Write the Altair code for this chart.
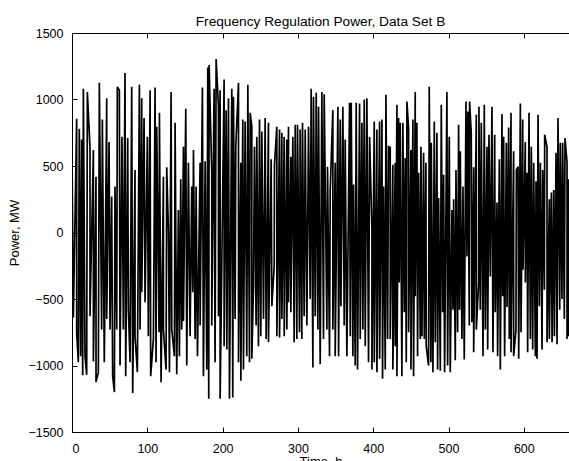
import altair as alt
import pandas as pd

# Upper excursions (hours, MW)
peak_t = [0, 6.2, 9.7, 12.8, 15.1, 20.4, 23.9, 28.4, 31.9, 36.3, 40.3, 46.1, 49.2, 52.7, 57.1, 60.2, 62.9, 66.4, 70.4, 74.0,
          79.3, 83.7, 89.5, 92.6, 95.7, 100.1, 103.7, 110.3, 112.5, 116.1, 121.4, 125.8, 128.0, 131.6, 136.9, 141.3, 144.4, 148.0, 151.1, 154.6,
          159.0, 161.3, 164.8, 170.1, 173.2, 176.8, 180.3, 182.1, 185.6, 188.7, 191.4, 194.5,
          196.7, 202.0, 204.7, 207.8, 212.2, 214.4, 217.5, 221.1, 224.2, 226.8, 229.9, 233.5, 236.6, 238.8, 242.3, 245.4, 249.0, 252.1,
          256.5, 260.9, 264.5, 268.9, 272.0, 275.6, 278.7, 281.8, 285.3, 287.5, 290.6, 293.3, 296.4, 299.5, 303.0, 306.1, 309.7, 314.1,
          317.6, 320.7, 324.3, 327.4, 331.8, 334.9, 339.3, 342.9, 346.4, 349.5, 353.1, 356.2, 359.7, 362.8, 368.6, 370.8, 373.9, 377.4,
          381.9, 385.0, 388.1, 391.6, 395.2, 398.3, 401.4, 404.9, 408.5, 411.6, 413.8, 416.9, 420.4,
          422.6, 426.1, 429.2, 431.5, 433.7, 435.9, 439.4, 442.5, 444.8, 447.0, 450.1, 452.7, 455.8, 458.0, 460.3, 463.4, 466.9, 470.0,
          474.4, 477.1, 481.1, 484.6, 486.8, 490.4, 493.5, 497.9, 501.0, 504.6, 506.8, 509.9, 513.4, 515.6, 519.2, 523.2, 525.8, 528.0,
          530.2, 533.4, 536.9, 540.4, 543.5, 547.5, 551.1, 553.7, 557.7, 561.3, 564.4, 567.5, 571.0, 573.2, 576.8, 579.9, 583.0, 586.5,
          590.1, 592.3, 595.4, 598.5, 602.0, 604.2, 606.9, 610.0, 613.1, 616.2, 618.9, 622.0, 625.1, 627.7, 630.8, 633.9, 636.6, 639.7,
          642.8, 645.4, 648.5, 651.6, 654.7, 657.4, 659.6]
peak_mw = [620, 855, 780, 700, 1080, 1057, 640, 620, 420, 1125, 850, 1010, 680, 270, 345, 1095, 1070, 720, 1200, 710,
           1095, 470, 1110, 1010, 860, 720, 1070, 1090, 795, 900, 420, 490, 20, 1057, 825, 170, 400, 645, 930, 525,
           345, 620, 345, 525, 1090, 535, 1240, 1260, 450, 1080, 1305, 945,
           1070, 1150, 920, 1010, 1080, 1020, 645, 1125, 525, 850, 835, 1110, 900, 795, 645, 720, 850, 760,
           860, 825, 550, 510, 795, 775, 750, 720, 700, 795, 570, 720, 810, 810, 775, 825, 775, 795,
           1080, 1020, 1050, 945, 1057, 1040, 495, 320, 920, 525, 945, 850, 945, 700, 975, 975, 360, 975,
           970, 825, 1000, 1010, 720, 20, 835, 775, 835, 850, 345, 1035, 645,
           640, 510, 525, 960, 860, 825, 825, 560, 985, 775, 620, 850, 1057, 825, 450, 645, 600, 525,
           1095, 675, 835, 750, 260, 960, 435, 1057, 720, 170, 250, 470, 810, 610, 345, 985, 910, 985,
           750, 490, 885, 945, 825, 960, 645, 735, 945, 735, 225, 550, 890, 720, 675, 790, 900, 610,
           470, 495, 970, 850, 680, 450, 900, 645, 525, 385, 885, 525, 470, 735, 645, 250, 300, 320,
           600, 860, 675, 675, 710, 525, 400]

# Lower excursions (hours, MW)
trough_t = [1.8, 6.2, 8.4, 11.5, 14.2, 17.3, 19.5, 23.9, 28.4, 31.9, 35.0, 39.4, 42.9, 46.1, 50.5, 54.0, 56.3, 59.4, 63.8, 68.2,
            71.3, 74.9, 77.1, 80.6, 83.7, 86.8, 90.4, 92.6, 97.0, 101.4, 104.5, 108.1, 111.6, 115.6, 118.3, 121.4, 124.9, 129.4, 132.5, 136.0,
            139.1, 142.6, 145.7, 148.0, 152.4, 156.8, 160.4, 163.5, 166.6, 170.1, 174.5, 179.0, 181.6, 185.6, 190.0, 194.5,
            196.7, 202.0, 205.6, 209.1, 213.5, 216.6, 221.1, 224.2, 227.7, 232.1, 235.7, 238.8, 241.0, 244.5, 247.6, 250.7, 254.3, 257.8,
            260.9, 265.4, 268.5, 272.0, 275.6, 278.7, 281.8, 285.3, 287.5, 290.6, 295.0, 298.6, 302.1, 305.2, 308.3, 311.9, 316.3, 319.9,
            323.0, 326.5, 329.6, 334.0, 338.5, 342.0, 346.4, 349.5, 354.0, 357.1, 361.5, 365.0, 369.5, 373.0, 376.1, 379.2, 382.8, 386.3,
            389.4, 393.8, 398.3, 401.4, 404.9, 408.5, 412.4, 416.0, 419.1,
            422.6, 426.1, 429.2, 431.5, 434.6, 438.1, 441.2, 443.9, 447.0, 450.1, 453.6, 455.8, 458.9, 462.5, 464.7, 467.8, 470.4, 473.5,
            476.6, 479.3, 482.4, 485.5, 489.1, 492.2, 494.8, 498.8, 502.3, 505.9, 509.0, 512.1, 514.7, 517.8, 520.9, 524.5, 527.6, 531.1,
            533.4, 536.9, 540.0, 542.2, 545.8, 548.9, 552.0, 555.5, 559.0, 562.1, 565.2, 568.8, 571.9, 574.5, 577.7, 580.7, 583.0, 586.5,
            589.6, 593.2, 596.3, 598.9, 602.0, 605.1, 608.7, 611.8, 615.3, 617.5, 620.6, 624.2, 627.3, 630.8, 633.9, 637.5, 640.6, 644.1,
            647.7, 650.7, 653.8, 657.4, 659.6]
trough_mw = [-640, -750, -975, -930, -1073, -930, -1070, -630, -970, -1125, -1050, -730, -975, -650, -730, -1080, -1200, -730, -1000, -730,
             -1080, -580, -975, -1207, -780, -1050, -730, -450, -525, -780, -1080, -800, -975, -750, -1125, -730, -1030, -1050, -730, -930,
             -1065, -930, -730, -665, -1000, -780, -450, -800, -930, -700, -1080, -1030, -1250, -700, -975, -630,
             -1250, -855, -880, -1250, -1240, -650, -975, -1115, -1030, -930, -975, -950, -405, -700, -855, -780, -650, -800,
             -825, -555, -255, -780, -790, -650, -780, -730, -525, -600, -825, -800, -750, -800, -630, -700, -500, -1015,
             -630, -730, -990, -800, -730, -930, -730, -930, -930, -555, -700, -930, -780, -930, -1000, -1030, -800, -730,
             -855, -975, -1030, -975, -1050, -950, -1100, -1030, -800,
             -800, -1030, -855, -1080, -375, -1080, -600, -975, -750, -1030, -1080, -480, -930, -800, -780, -800, -855, -1000,
             -975, -1050, -825, -1030, -1040, -600, -1050, -1000, -1050, -580, -960, -750, -580, -800, -955, -180, -700, -675,
             -900, -730, -375, -580, -930, -730, -880, -330, -900, -600, -930, -1030, -480, -930, -560, -800, -900, -930,
             -730, -950, -750, -280, -375, -900, -800, -880, -930, -950, -555, -880, -430, -825, -800, -825, -780, -840,
             -580, -500, -650, -800, -780]

x_ticks = [0, 100, 200, 300, 400, 500, 600]
y_ticks = [-1500, -1000, -500, 0, 500, 1000, 1500]

assert len(peak_t) == len(peak_mw) and len(trough_t) == len(trough_mw)

df = pd.DataFrame({"t": peak_t + trough_t, "p": peak_mw + trough_mw})
df = df.sort_values("t", kind="stable").reset_index(drop=True)
df["i"] = range(len(df))

W, H = 497, 399
FONT = "Liberation Sans"
xs = alt.Scale(domain=[0, 660], nice=False, zero=False)
ys = alt.Scale(domain=[-1500, 1500], nice=False, zero=False)

common = dict(labelFont=FONT, labelFontSize=12.5, labelColor="black", titleFont=FONT,
              titleFontSize=13, titleColor="black", titleFontWeight="normal", grid=False,
              domainColor="black", tickColor="black", format="d")

line = alt.Chart(df).mark_line(color="black", strokeWidth=1.7, clip=True, strokeJoin="miter", strokeMiterLimit=2).encode(
    x=alt.X("t:Q", scale=xs, axis=alt.Axis(values=x_ticks, tickSize=0, labelPadding=10, title="Time, h",
                                           titleX=W / 2, titleY=23, titleBaseline="top", **common)),
    y=alt.Y("p:Q", scale=ys, axis=alt.Axis(values=y_ticks, tickSize=0, labelPadding=9, title="Power, MW",
                                           titleX=-58, titleY=H / 2, titleBaseline="middle", titleAngle=270, **common)),
    order="i:Q",
)

ticks_in = alt.Chart(df).mark_point(opacity=0).encode(
    x=alt.X("t:Q", scale=xs, axis=alt.Axis(orient="top", offset=-H, values=x_ticks, labels=False, domain=False,
                                           tickSize=5, title=None, **common)),
    y=alt.Y("p:Q", scale=ys, axis=alt.Axis(orient="right", offset=-W, values=y_ticks, labels=False, domain=False,
                                           tickSize=5, title=None, **common)),
)

top_frame = alt.Chart(df).mark_point(opacity=0).encode(
    x=alt.X("t:Q", scale=xs, axis=alt.Axis(orient="bottom", offset=-H, values=x_ticks, labels=False, domain=True,
                                           tickSize=5, title=None, **common)),
    y=alt.Y("p:Q", scale=ys, axis=None),
)

chart = alt.layer(line, ticks_in, top_frame).resolve_axis(x="independent", y="independent").properties(
    width=W, height=H,
    title=alt.TitleParams("Frequency Regulation Power, Data Set B", font=FONT, fontSize=13.7, fontWeight="normal",
                          color="black", anchor="middle", frame="group", baseline="alphabetic", offset=8, dy=21),
    padding={"left": 72, "top": 33, "right": 0, "bottom": 29},
    autosize=alt.AutoSizeParams(type="none"),
    background="white",
).configure_view(stroke=None)

chart.save("out.html", embed_options={"renderer": "svg", "actions": False})
